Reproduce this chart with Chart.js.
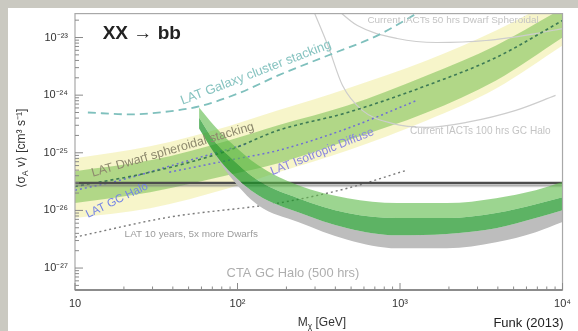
<!DOCTYPE html>
<html>
<head>
<meta charset="utf-8">
<script src="https://cdn.jsdelivr.net/npm/chart.js@4/dist/chart.umd.min.js"></script>
<style>
  html, body { margin: 0; padding: 0; }
  body { width: 578px; height: 331px; background: #cac9c1; position: relative; overflow: hidden; }
  #panel { position: absolute; left: 8px; top: 8px; width: 570px; height: 323px; background: #fff; }
  #c { position: absolute; left: 0; top: 0; filter: blur(0.4px); }
</style>
</head>
<body>
<div id="panel"></div>
<canvas id="c" width="578" height="331"></canvas>
<script>
const FONT = '"Liberation Sans", Arial, sans-serif';

// dark matter mass [GeV] and <sigma v> [cm^3 s^-1]
const massDwarf = [10, 29, 88, 178, 475, 1460, 3900, 10000];
const dwarfUpper = [4.8e-26, 7.4e-26, 1.64e-25, 3.0e-25, 6.6e-25, 2.2e-24, 7.3e-24, 3.2e-23];
const dwarfLower = [1.34e-26, 2.07e-26, 4.1e-26, 6.6e-26, 1.64e-25, 5.0e-25, 1.8e-24, 1.0e-23];
const dwarfMedian = [2.6e-26, 4.6e-26, 1.1e-25, 2.45e-25, 5.0e-25, 1.47e-24, 4.5e-24, 1.97e-23];
const dwarfSysUpper = [8.0e-26, 1.3e-25, 2.9e-25, 5.45e-25, 1.31e-24, 4.0e-24, 1.32e-23, 5.3e-23];
const dwarfSysLower = [7.4e-27, 1.09e-26, 2.43e-26, 4.6e-26, 1.1e-25, 3.65e-25, 1.31e-24, 7.3e-24];

const massCTA = [58, 71.5, 88, 134, 236, 475, 960, 1940, 3900, 6840, 10000];
const ctaUpper = [6.1e-25, 3.0e-25, 1.64e-25, 6.1e-26, 2.73e-26, 1.63e-26, 1.34e-26, 1.34e-26, 1.63e-26, 2.24e-26, 3.1e-26];
const ctaMid = [4.1e-25, 1.64e-25, 9.0e-26, 3.3e-26, 1.63e-26, 9.0e-27, 7.35e-27, 7.35e-27, 9.0e-27, 1.28e-26, 1.69e-26];
const ctaLower = [2.65e-25, 1.02e-25, 5.0e-26, 1.84e-26, 9.3e-27, 4.9e-27, 3.7e-27, 3.9e-27, 4.9e-27, 7.35e-27, 1.01e-26];
const ctaShadow = [2.65e-25, 1.0e-25, 4.2e-26, 1.23e-26, 6.3e-27, 3.1e-27, 2.2e-27, 2.2e-27, 2.8e-27, 4.2e-27, 6.3e-27];

const massRelic = [10, 10000];
const relicValue = [3e-26, 3e-26];

const massIso = [38, 88, 178, 475, 1270];
const isoValue = [4.6e-26, 7.4e-26, 1.1e-25, 2.65e-25, 8.1e-25];

const massGC = [10, 19, 44, 117];
const gcValue = [2.24e-26, 3.34e-26, 6.6e-26, 1.46e-25];

const massTenYr = [10, 38, 178, 475, 1100];
const tenYrValue = [3.44e-27, 7.64e-27, 1.34e-26, 2.43e-26, 4.98e-26];

const massCluster = [12, 21.6, 38, 58, 101, 178, 360, 725, 1360];
const clusterValue = [5.0e-25, 4.64e-25, 5.24e-25, 6.4e-25, 1.07e-24, 2.2e-24, 4.88e-24, 1.08e-23, 2.94e-23];

const massIactDwarf = [385, 547, 960, 1680, 3390, 6840, 10000];
const iactDwarfValue = [3.58e-23, 1.61e-23, 9.6e-24, 8.19e-24, 8.87e-24, 1.17e-23, 1.43e-23];

const massIactGC = [290, 360, 443, 586, 893, 1460, 2560, 5160, 9060];
const iactGCValue = [3.18e-23, 7.26e-24, 1.47e-24, 5.45e-25, 3.24e-25, 2.77e-25, 3.37e-25, 5.45e-25, 9.9e-25];

const xTicks = [10, 100, 1000, 10000];
const yTicks = [1e-27, 1e-26, 1e-25, 1e-24, 1e-23];

// size: fixed font size; without it the text is stretched to run from "from" to "to"
const notes = [
  { text: 'XX \u2192 bb', from: [14.8, 1.17e-23], to: [44.9, 1.17e-23], color: '#222', bold: true },
  { text: 'LAT Galaxy cluster stacking', from: [45, 7.8e-25], to: [430, 8.9e-24], color: '#86c3c0', size: 13 },
  { text: 'LAT Dwarf spheroidal stacking', from: [12.7, 4.4e-26], to: [155, 3.4e-25], color: '#8e8a6e', size: 12.5 },
  { text: 'LAT GC Halo', from: [11.8, 8.3e-27], to: [29.9, 2.96e-26], color: '#7484e6', size: 11.5 },
  { text: 'LAT Isotropic Diffuse', from: [161, 4.6e-26], to: [918, 3.24e-25], color: '#8a86e0', size: 12 },
  { text: 'LAT 10 years, 5x more Dwarfs', from: [20.2, 3.9e-27], to: [134, 3.9e-27], color: '#9c9c9c' },
  { text: 'CTA GC Halo (500 hrs)', from: [85.7, 7.9e-28], to: [562, 7.9e-28], color: '#aeaeae' },
  { text: 'Current IACTs 50 hrs Dwarf Spheroidal', from: [630, 1.97e-23], to: [7150, 1.97e-23], color: '#c4c4c4' },
  { text: 'Current IACTs 100 hrs GC Halo', from: [1150, 2.36e-25], to: [8450, 2.36e-25], color: '#c4c4c4' }
];

const supers = { '-': '\u207B', '0': '\u2070', '1': '\u00B9', '2': '\u00B2', '3': '\u00B3', '4': '\u2074',
  '5': '\u2075', '6': '\u2076', '7': '\u2077', '8': '\u2078', '9': '\u2079' };
function powLabel(v) {
  const e = Math.round(Math.log10(v));
  if (e === 1) return '10';
  return '10' + String(e).split('').map(c => supers[c]).join('');
}

function pts(xs, ys) { return xs.map((x, i) => ({ x: x, y: ys[i] })); }

function line(data, color, width, dash, order, extra) {
  return Object.assign({
    data: data, borderColor: color, borderWidth: width, borderDash: dash || [],
    pointRadius: 0, fill: false, order: order, cubicInterpolationMode: 'monotone'
  }, extra || {});
}
function edge(data, fillColor, order) {
  return line(data, 'rgba(0,0,0,0)', 0, null, order,
    fillColor ? { fill: '+1', backgroundColor: fillColor } : {});
}

// thin grey shadow under the relic line
const shadowPlugin = {
  id: 'lineShadow',
  beforeDatasetDraw(chart, args) {
    const ds = chart.data.datasets[args.index];
    if (!ds.shadowColor) return;
    chart.ctx.save();
    chart.ctx.shadowColor = ds.shadowColor;
    chart.ctx.shadowOffsetY = 2.5;
    chart.ctx.shadowBlur = 1.5;
  },
  afterDatasetDraw(chart, args) {
    if (chart.data.datasets[args.index].shadowColor) chart.ctx.restore();
  }
};

const framePlugin = {
  id: 'frame',
  afterDatasetsDraw(chart) {
    const { ctx, chartArea: a, scales: { x, y } } = chart;
    ctx.save();
    ctx.strokeStyle = '#a8a8a8';
    ctx.lineWidth = 1.2;
    ctx.strokeRect(a.left, a.top, a.right - a.left, a.bottom - a.top);
    ctx.strokeStyle = '#777';
    ctx.lineWidth = 1.5;
    ctx.beginPath(); ctx.moveTo(a.left, a.bottom); ctx.lineTo(a.right, a.bottom); ctx.stroke();
    ctx.lineWidth = 1;
    ctx.strokeStyle = '#8a8a8a';
    for (let e = -28; e <= -23; e++) {
      for (let k = 1; k < 10; k++) {
        const v = k * Math.pow(10, e);
        if (v < y.min || v > y.max) continue;
        const py = y.getPixelForValue(v);
        ctx.beginPath(); ctx.moveTo(a.left, py); ctx.lineTo(a.left + (k === 1 ? 8 : 4), py); ctx.stroke();
      }
    }
    for (let e = 1; e <= 4; e++) {
      for (let k = 1; k < 10; k++) {
        const v = k * Math.pow(10, e);
        if (v < x.min || v > x.max) continue;
        const px = x.getPixelForValue(v);
        ctx.beginPath(); ctx.moveTo(px, a.bottom); ctx.lineTo(px, a.bottom - (k === 1 ? 7 : 3.5)); ctx.stroke();
      }
    }
    ctx.restore();
  }
};

function drawParts(ctx, parts, size) {
  // parts: [text, 0 normal | 1 subscript], drawn centred on 0,0
  const widths = parts.map(p => {
    ctx.font = (p[1] ? size * 0.7 : size) + 'px ' + FONT;
    return ctx.measureText(p[0]).width;
  });
  let cx = -widths.reduce((s, w) => s + w, 0) / 2;
  parts.forEach((p, i) => {
    ctx.font = (p[1] ? size * 0.7 : size) + 'px ' + FONT;
    ctx.fillText(p[0], cx, p[1] ? size * 0.28 : 0);
    cx += widths[i];
  });
}

const notesPlugin = {
  id: 'notes',
  afterDraw(chart) {
    const { ctx, chartArea: a, scales: { x, y } } = chart;
    ctx.save();
    ctx.textBaseline = 'middle';
    notes.forEach(n => {
      const x1 = x.getPixelForValue(n.from[0]), y1 = y.getPixelForValue(n.from[1]);
      const x2 = x.getPixelForValue(n.to[0]), y2 = y.getPixelForValue(n.to[1]);
      const weight = n.bold ? 'bold ' : '';
      ctx.font = weight + '10px ' + FONT;
      const size = n.size || 10 * Math.hypot(x2 - x1, y2 - y1) / ctx.measureText(n.text).width;
      ctx.save();
      ctx.translate(x1, y1);
      ctx.rotate(Math.atan2(y2 - y1, x2 - x1));
      ctx.font = weight + size.toFixed(2) + 'px ' + FONT;
      ctx.fillStyle = n.color;
      ctx.textAlign = 'left';
      ctx.fillText(n.text, 0, 0);
      ctx.restore();
    });

    ctx.fillStyle = '#333';
    ctx.textBaseline = 'alphabetic';
    ctx.save();
    ctx.translate(a.left - 50, a.top + 135);
    ctx.rotate(-Math.PI / 2);
    drawParts(ctx, [['\u27E8\u03C3', 0], ['A', 1], [' v\u27E9 [cm\u00B3 s\u207B\u00B9]', 0]], 12);
    ctx.restore();

    ctx.save();
    ctx.translate(a.left + 247, a.bottom + 36);
    drawParts(ctx, [['M', 0], ['\u03C7', 1], [' [GeV]', 0]], 12);
    ctx.restore();

    ctx.font = '13px ' + FONT;
    ctx.fillStyle = '#222';
    ctx.textAlign = 'right';
    ctx.fillText('Funk (2013)', a.right + 1, a.bottom + 37);
    ctx.restore();
  }
};

const datasets = [
  edge(pts(massCTA, ctaUpper), 'rgba(90,185,70,0.6)', 10),
  edge(pts(massCTA, ctaMid), 'rgba(30,150,40,0.72)', 10),
  edge(pts(massCTA, ctaLower), '#bdbdbd', 12),
  edge(pts(massCTA, ctaShadow), null, 12),
  line(pts(massRelic, relicValue), '#4d4d4d', 2.2, null, 14, { shadowColor: 'rgba(120,120,120,0.7)' }),
  line(pts(massDwarf, dwarfMedian), '#3d7a55', 1.6, [3, 3], 16),
  line(pts(massIso, isoValue), '#6f6fd6', 1.5, [2, 3], 16),
  line(pts(massGC, gcValue), '#6f6fd6', 1.5, [2, 3], 16),
  line(pts(massTenYr, tenYrValue), '#7a7a7a', 1.4, [2, 3], 16),
  line(pts(massCluster, clusterValue), '#7fc0bd', 1.8, [8, 5], 16),
  line(pts(massIactDwarf, iactDwarfValue), '#cdcdcd', 1.2, null, 16),
  line(pts(massIactGC, iactGCValue), '#cdcdcd', 1.2, null, 16),
  edge(pts(massDwarf, dwarfUpper), 'rgba(140,200,100,0.65)', 20),
  edge(pts(massDwarf, dwarfLower), null, 20),
  edge(pts(massDwarf, dwarfSysUpper), 'rgba(240,235,150,0.5)', 22),
  edge(pts(massDwarf, dwarfSysLower), null, 22)
];

new Chart(document.getElementById('c').getContext('2d'), {
  type: 'line',
  data: { datasets: datasets },
  options: {
    responsive: false,
    animation: false,
    layout: { padding: { left: 8, top: 13, right: 11, bottom: 0 } },
    plugins: { legend: { display: false }, tooltip: { enabled: false } },
    scales: {
      x: {
        type: 'logarithmic', min: 10, max: 10000,
        grid: { display: false, drawTicks: false }, border: { display: false },
        afterBuildTicks: s => { s.ticks = xTicks.map(v => ({ value: v })); },
        afterFit: s => { s.height = 41; },
        ticks: { callback: v => powLabel(v), autoSkip: false, maxRotation: 0, padding: 7,
          color: '#333', font: { family: FONT, size: 11 } }
      },
      y: {
        type: 'logarithmic', min: 4.16e-28, max: 2.6e-23,
        grid: { display: false, drawTicks: false }, border: { display: false },
        afterBuildTicks: s => { s.ticks = yTicks.map(v => ({ value: v })); },
        afterFit: s => { s.width = 67; },
        ticks: { callback: v => powLabel(v), autoSkip: false, padding: 7,
          color: '#333', font: { family: FONT, size: 11 } }
      }
    }
  },
  plugins: [shadowPlugin, framePlugin, notesPlugin]
});
</script>
</body>
</html>
